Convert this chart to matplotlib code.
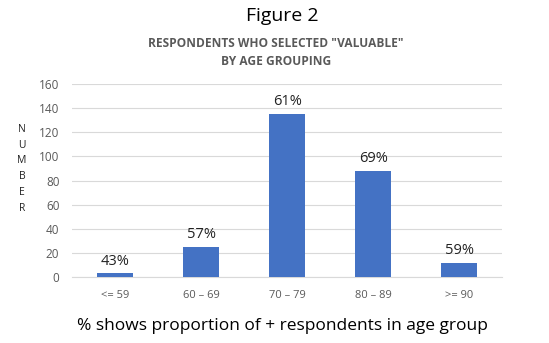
import matplotlib
matplotlib.use("Agg")
import matplotlib.pyplot as plt
import numpy as np

# Data
age_groups = ["<= 59", "60 – 69", "70 – 79", "80 – 89", ">= 90"]
counts = [3, 25, 135, 88, 12]
pct_labels = ["43%", "57%", "61%", "69%", "59%"]

plt.rcParams["font.family"] = ["Open Sans", "DejaVu Sans"]

BAR_COLOR = "#4472C4"
GREY = "#595959"

fig = plt.figure(figsize=(5.49, 3.43), dpi=100)
ax = fig.add_axes([0.131, 0.1924, 0.784, 0.5626])

x = np.arange(len(age_groups))
bars = ax.bar(x, counts, width=0.42, color=BAR_COLOR, zorder=3)

for xi, c, lab in zip(x, counts, pct_labels):
    ax.annotate(lab, (xi, c), xytext=(0, 3.5), textcoords="offset points",
                ha="center", va="bottom", fontsize=10.5, color="#222222")

ax.set_xlim(-0.5, len(age_groups) - 0.5)
ax.set_ylim(0, 160)
ax.set_yticks(np.arange(0, 161, 20))
ax.set_xticks(x)
ax.set_xticklabels(age_groups)
ax.tick_params(axis="both", length=0, colors=GREY)
ax.tick_params(axis="y", pad=9, labelsize=8.5)
ax.tick_params(axis="x", pad=9, labelsize=8)
ax.grid(axis="y", color="#d9d9d9", linewidth=0.8, zorder=0)
for side in ["top", "right", "left"]:
    ax.spines[side].set_visible(False)
ax.spines["bottom"].set_color("#d9d9d9")

# Vertical stacked axis label
fig.text(0.040, 0.508, "N\nU\nM\nB\nE\nR", ha="center", va="center",
         fontsize=7.5, color="#222222", linespacing=1.6)

fig.text(0.514, 0.954, "Figure 2", ha="center", va="center",
         fontsize=14, color="black")
fig.text(0.503, 0.847, 'RESPONDENTS WHO SELECTED "VALUABLE"\nBY AGE GROUPING',
         ha="center", va="center", fontsize=8.6, fontweight="bold",
         color=GREY, linespacing=1.5)
fig.text(0.515, 0.05, "% shows proportion of + respondents in age group",
         ha="center", va="center", fontsize=12.5, color="black")

fig.savefig("out.png", dpi=100)
